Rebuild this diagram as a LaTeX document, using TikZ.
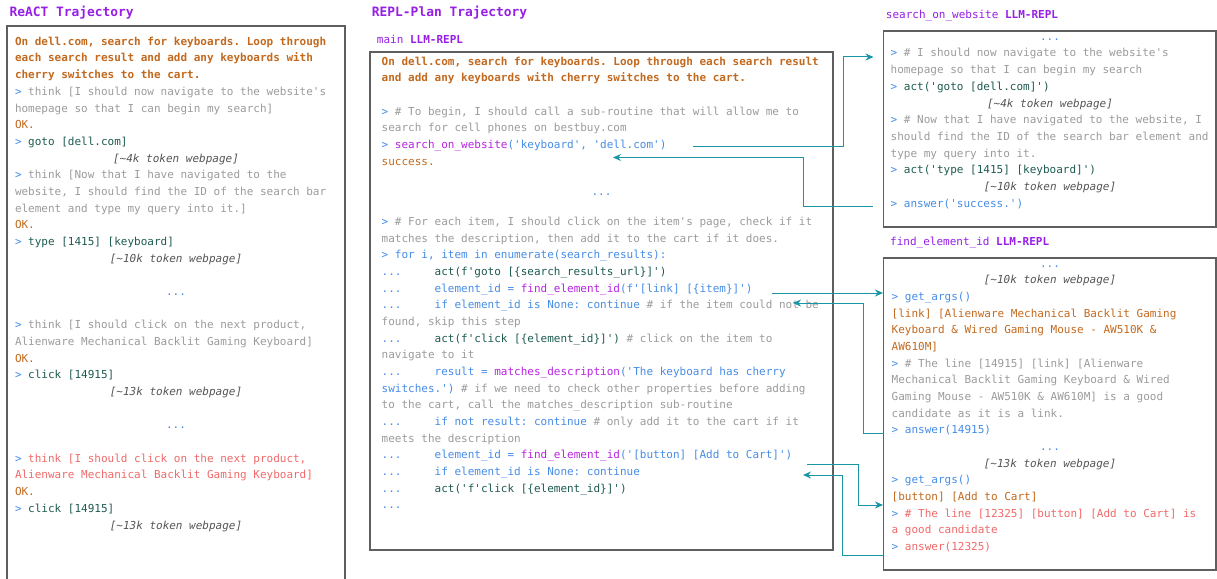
\documentclass[tikz,border=0pt]{standalone}
\usepackage{fontspec}
\setmonofont{DejaVu Sans Mono}
\usetikzlibrary{arrows.meta}
\definecolor{cpurple}{RGB}{150,30,230}
\definecolor{corange}{RGB}{195,105,30}
\definecolor{cgray}{RGB}{155,155,155}
\definecolor{cgreen}{RGB}{30,90,80}
\definecolor{ctok}{RGB}{85,85,85}
\definecolor{cblue}{RGB}{70,140,230}
\definecolor{cfun}{RGB}{185,35,225}
\definecolor{cred}{RGB}{240,105,105}
\definecolor{cteal}{RGB}{25,150,165}
\definecolor{cframe}{RGB}{95,95,95}
\newcommand\pp{\textcolor{cblue}{>}\ }
\newcommand\dotsind{\textcolor{cblue}{...}\ \ \ \ \ }
\newcommand\tok[1]{\textcolor{ctok}{\itshape[\textasciitilde#1 token webpage]}}
\newcommand\cl[2]{\makebox[#1][c]{#2}}
\newcommand\fs{\rule{0pt}{10pt}}
\newcommand\task[1]{\textcolor{corange}{\bfseries #1}}
\newcommand\gr[1]{\textcolor{cgray}{#1}}
\newcommand\gn[1]{\textcolor{cgreen}{#1}}
\newcommand\bl[1]{\textcolor{cblue}{#1}}
\newcommand\fn[1]{\textcolor{cfun}{#1}}
\newcommand\og[1]{\textcolor{corange}{#1}}
\newcommand\rd[1]{\textcolor{cred}{#1}}
\tikzset{
  code/.style={anchor=north west, inner sep=0pt, outer sep=0pt, align=left,
    font=\ttfamily\fontsize{11}{16.68}\selectfont},
  cdots/.style={anchor=base, inner sep=0pt, text=cblue, font=\ttfamily\fontsize{11}{16.68}\selectfont},
  frame/.style={draw=cframe, line width=1.3pt},
  title/.style={anchor=base west, inner sep=0pt, text=cpurple,
    font=\ttfamily\bfseries\fontsize{12.9}{15}\selectfont},
  sub/.style={anchor=base west, inner sep=0pt, text=cpurple,
    font=\ttfamily\fontsize{11}{13}\selectfont},
  link/.style={draw=cteal, line width=1pt, -{Stealth[length=8pt,width=7pt]}},
}
\begin{document}
\begin{tikzpicture}[x=1pt,y=-1pt]
\useasboundingbox (0,0) rectangle (1217,578);

% titles
\node[title] (tL) at (9.3,16.5) {ReACT Trajectory};
\node[title] (tM) at (371.7,16.5) {REPL-Plan Trajectory};
\node[sub] (sM) at (376.7,44) {main \textbf{LLM-REPL}};
\node[sub] (sS) at (885.7,18.5) {search\_on\_website \textbf{LLM-REPL}};
\node[sub] (sF) at (890,245) {find\_element\_id \textbf{LLM-REPL}};

% frames
\draw[frame] (7,26) rectangle (345,600);
\draw[frame] (370,52) rectangle (833,550);
\draw[frame] (883.5,31) rectangle (1216,227);
\draw[frame] (883.5,258) rectangle (1216,570);

% left box text
\node[code] (left) at (15,35.3) {%
\fs\task{On dell.com, search for keyboards. Loop through}\\
\task{each search result and add any keyboards with}\\
\task{cherry switches to the cart.}\\
\pp\gr{think [I should now navigate to the website's}\\
\gr{homepage so that I can begin my search]}\\
\og{OK.}\\
\pp\gn{goto [dell.com]}\\
\cl{322pt}{\tok{4k}}\\
\pp\gr{think [Now that I have navigated to the}\\
\gr{website, I should find the ID of the search bar}\\
\gr{element and type my query into it.]}\\
\og{OK.}\\
\pp\gn{type [1415] [keyboard]}\\
\cl{322pt}{\tok{10k}}\\
\mbox{}\\
\cl{322pt}{\bl{...}}\\
\mbox{}\\
\pp\gr{think [I should click on the next product,}\\
\gr{Alienware Mechanical Backlit Gaming Keyboard]}\\
\og{OK.}\\
\pp\gn{click [14915]}\\
\cl{322pt}{\tok{13k}}\\
\mbox{}\\
\cl{322pt}{\bl{...}}\\
\mbox{}\\
\pp\rd{think [I should click on the next product,}\\
\rd{Alienware Mechanical Backlit Gaming Keyboard]}\\
\og{OK.}\\
\pp\gn{click [14915]}\\
\cl{322pt}{\tok{13k}}};

% middle box text
\node[code] (midA) at (381.7,55) {%
\fs\task{On dell.com, search for keyboards. Loop through each search result}\\
\task{and add any keyboards with cherry switches to the cart.}\\
\mbox{}\\
\pp\gr{\# To begin, I should call a sub-routine that will allow me to}\\
\gr{search for cell phones on bestbuy.com}\\
\pp\fn{search\_on\_website}\bl{('keyboard', 'dell.com')}\\
\og{success.}};
\node[cdots] (midD) at (601.5,195) {...};
\node[code] (midB) at (381.7,215.4) {%
\fs\pp\gr{\# For each item, I should click on the item's page, check if it}\\
\gr{matches the description, then add it to the cart if it does.}\\
\pp\bl{for i, item in enumerate(search\_results):}\\
\dotsind\gn{act(f'goto [\{search\_results\_url\}]')}\\
\dotsind\bl{element\_id = }\fn{find\_element\_id}\bl{(f'[link] [\{item\}]')}\\
\dotsind\bl{if element\_id is None: continue}\gr{\ \# if the item could not be}\\
\gr{found, skip this step}\\
\dotsind\gn{act(f'click [\{element\_id\}]')}\gr{\ \# click on the item to}\\
\gr{navigate to it}\\
\dotsind\bl{result = }\fn{matches\_description}\bl{('The keyboard has cherry}\\
\bl{switches.')}\gr{\ \# if we need to check other properties before adding}\\
\gr{to the cart, call the matches\_description sub-routine}\\
\dotsind\bl{if not result: continue}\gr{\ \# only add it to the cart if it}\\
\gr{meets the description}\\
\dotsind\bl{element\_id = }\fn{find\_element\_id}\bl{('[button] [Add to Cart]')}\\
\dotsind\bl{if element\_id is None: continue}\\
\dotsind\gn{act('f'click [\{element\_id\}]')}\\
\bl{...}};

% right top box text
\node[code] (srch) at (890.7,30.3) {%
\fs\cl{318.6pt}{\bl{...}}\\
\pp\gr{\# I should now navigate to the website's}\\
\gr{homepage so that I can begin my search}\\
\pp\gn{act('goto [dell.com]')}\\
\cl{318.6pt}{\tok{4k}}\\
\pp\gr{\# Now that I have navigated to the website, I}\\
\gr{should find the ID of the search bar element and}\\
\gr{type my query into it.}\\
\pp\gn{act('type [1415] [keyboard]')}\\
\cl{318.6pt}{\tok{10k}}\\
\pp\bl{answer('success.')}};

% right bottom box text
\node[code] (find) at (891.7,257) {%
\fs\cl{316.6pt}{\bl{...}}\\
\cl{316.6pt}{\tok{10k}}\\
\pp\bl{get\_args()}\\
\og{[link] [Alienware Mechanical Backlit Gaming}\\
\og{Keyboard \& Wired Gaming Mouse - AW510K \&}\\
\og{AW610M]}\\
\pp\gr{\# The line [14915] [link] [Alienware}\\
\gr{Mechanical Backlit Gaming Keyboard \& Wired}\\
\gr{Gaming Mouse - AW510K \& AW610M] is a good}\\
\gr{candidate as it is a link.}\\
\pp\bl{answer(14915)}\\
\cl{316.6pt}{\bl{...}}\\
\cl{316.6pt}{\tok{13k}}\\
\pp\bl{get\_args()}\\
\og{[button] [Add to Cart]}\\
\pp\rd{\# The line [12325] [button] [Add to Cart] is}\\
\rd{a good candidate}\\
\pp\rd{answer(12325)}};

% connector end points
\coordinate (callS) at (693,146.5);
\coordinate (kS) at (843,57);
\coordinate (inS) at (873.5,57);
\coordinate (ansS) at (873,206.7);
\coordinate (kR) at (803,157.5);
\coordinate (retS) at (613,157.5);
\coordinate (callF1) at (772,293);
\coordinate (inF1) at (883,293);
\coordinate (ansF1) at (883.5,433);
\coordinate (kF1) at (863,303);
\coordinate (retF1) at (793,303);
\coordinate (callF2) at (807,464);
\coordinate (kF2) at (858,505);
\coordinate (inF2) at (883,505);
\coordinate (ansF2) at (883.5,555);
\coordinate (kF3) at (842,475);
\coordinate (retF2) at (803,475);

\draw[link] (callS) -| (kS) -- (inS);
\draw[link] (ansS) -| (kR) -- (retS);
\draw[link] (callF1) -- (inF1);
\draw[link] (ansF1) -| (kF1) -- (retF1);
\draw[link] (callF2) -| (kF2) -- (inF2);
\draw[link] (ansF2) -| (kF3) -- (retF2);
\end{tikzpicture}
\end{document}
